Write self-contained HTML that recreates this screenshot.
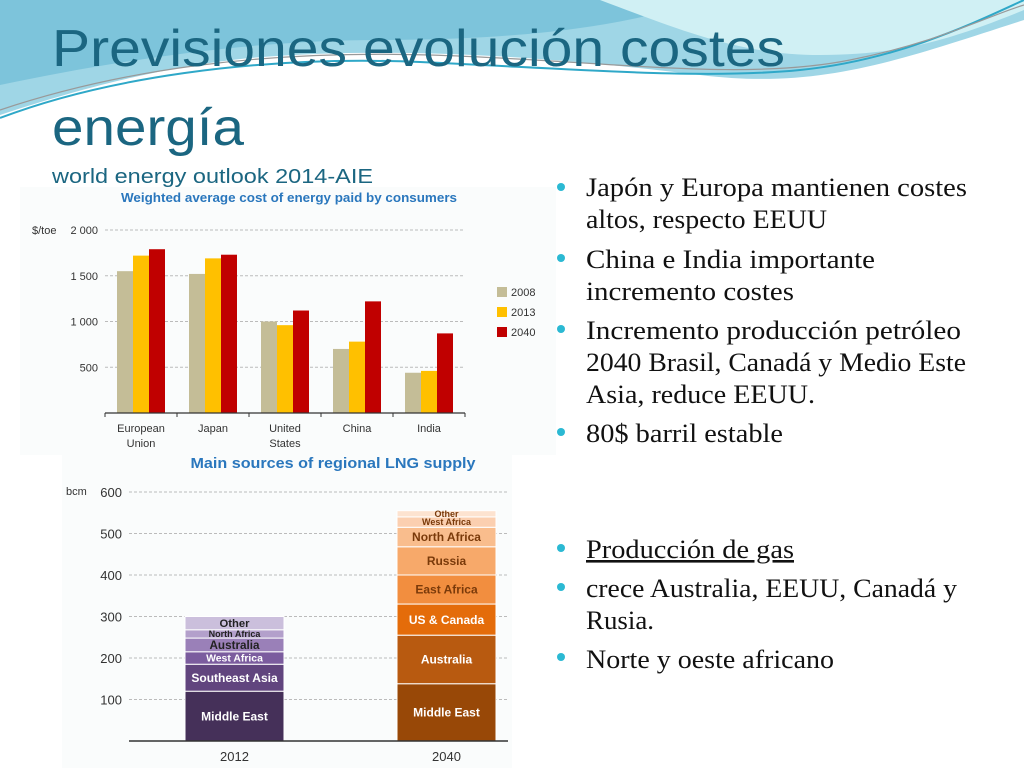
<!DOCTYPE html>
<html><head><meta charset="utf-8"><style>
html,body{margin:0;padding:0;background:#fff;}
svg{display:block;}
.t{font-family:"Liberation Serif",serif;font-size:26px;fill:#111;}
</style></head><body>
<svg id="s" width="1024" height="768" viewBox="0 0 1024 768" xmlns="http://www.w3.org/2000/svg">
<g>
<path d="M0,0 H1024 V20 C900,60 820,90 700,75 C560,58 400,45 250,58 C150,68 60,95 0,115 Z" fill="#9fd6e6"/>
<path d="M0,0 H700 C620,30 500,40 380,40 C250,40 120,60 0,85 Z" fill="#6fbcd6" opacity="0.7"/>
<path d="M600,0 H1024 V10 C950,40 900,55 820,55 C740,55 680,30 600,0 Z" fill="#d0f0f4"/>
<path d="M0,118 C100,80 250,55 420,62 C560,68 700,80 800,70 C900,60 980,20 1024,0" stroke="#2fa8c8" stroke-width="2" fill="none"/>
<path d="M0,110 C120,70 260,50 430,55 C600,60 740,82 850,60 C940,42 990,15 1024,5" stroke="#999" stroke-width="1.2" fill="none"/>
</g>
<text x="52" y="66" font-family="Liberation Sans, sans-serif" font-size="52" fill="#1b6681" textLength="733" lengthAdjust="spacingAndGlyphs">Previsiones evolución costes</text>
<text x="52" y="145" font-family="Liberation Sans, sans-serif" font-size="52" fill="#1b6681" textLength="192" lengthAdjust="spacingAndGlyphs">energía</text>

<g id="c1">
<rect x="20" y="187" width="536" height="268" fill="#fafcfc"/>
<text x="289" y="202" text-anchor="middle" font-family="Liberation Sans, sans-serif" font-size="13" font-weight="bold" fill="#2a77bd" textLength="336" lengthAdjust="spacingAndGlyphs">Weighted average cost of energy paid by consumers</text>
<text x="32" y="234" font-family="Liberation Sans, sans-serif" font-size="11" fill="#333">$/toe</text>
</g>
<text x="52" y="183" font-family="Liberation Sans, sans-serif" font-size="20" fill="#1b6681" textLength="321" lengthAdjust="spacingAndGlyphs">world energy outlook 2014-AIE</text>
<g id="c2">
<rect x="62" y="452" width="450" height="316" fill="#fafcfc"/>
<text x="333" y="468" text-anchor="middle" font-family="Liberation Sans, sans-serif" font-size="15" font-weight="bold" fill="#2a77bd" textLength="285" lengthAdjust="spacingAndGlyphs">Main sources of regional LNG supply</text>
<text x="66" y="495" font-family="Liberation Sans, sans-serif" font-size="11" fill="#333">bcm</text>
</g>

<g>
<g fill="#2bb9d3">
<circle cx="561" cy="187" r="4"/><circle cx="561" cy="258" r="4"/><circle cx="561" cy="329" r="4"/><circle cx="561" cy="432" r="4"/><circle cx="561" cy="548" r="4"/><circle cx="561" cy="587" r="4"/><circle cx="561" cy="657" r="4"/>
</g>
<text class="t" x="586" y="196" textLength="381" lengthAdjust="spacingAndGlyphs">Japón y Europa mantienen costes</text>
<text class="t" x="586" y="228" textLength="241" lengthAdjust="spacingAndGlyphs">altos, respecto EEUU</text>
<text class="t" x="586" y="268" textLength="289" lengthAdjust="spacingAndGlyphs">China e India importante</text>
<text class="t" x="586" y="300" textLength="208" lengthAdjust="spacingAndGlyphs">incremento costes</text>
<text class="t" x="586" y="339" textLength="375" lengthAdjust="spacingAndGlyphs">Incremento producción petróleo</text>
<text class="t" x="586" y="371" textLength="380" lengthAdjust="spacingAndGlyphs">2040 Brasil, Canadá y Medio Este</text>
<text class="t" x="586" y="403" textLength="229" lengthAdjust="spacingAndGlyphs">Asia,  reduce EEUU.</text>
<text class="t" x="586" y="442" textLength="197" lengthAdjust="spacingAndGlyphs">80$ barril estable</text>
<text class="t" x="586" y="558" text-decoration="underline" textLength="208" lengthAdjust="spacingAndGlyphs">Producción de gas</text>
<text class="t" x="586" y="597" textLength="371" lengthAdjust="spacingAndGlyphs">crece Australia, EEUU, Canadá y</text>
<text class="t" x="586" y="629" textLength="68" lengthAdjust="spacingAndGlyphs">Rusia.</text>
<text class="t" x="586" y="668" textLength="248" lengthAdjust="spacingAndGlyphs">Norte y oeste africano</text>
</g>
</svg>
<script>
const categories1 = ["European Union","Japan","United States","China","India"];
const years1 = ["2008","2013","2040"];
const v2008 = [1550,1520,1000,700,440];
const v2013 = [1720,1690,960,780,460];
const v2040 = [1790,1730,1120,1220,870];
const ticks1 = [500,1000,1500,2000];
const tickLabels1 = ["500","1 000","1 500","2 000"];

const years2 = ["2012","2040"];
const segNames2012 = ["Middle East","Southeast Asia","West Africa","Australia","North Africa","Other"];
const segVals2012 = [120,65,30,33,20,32];
const segNames2040 = ["Middle East","Australia","US & Canada","East Africa","Russia","North Africa","West Africa","Other"];
const segVals2040 = [138,117,75,70,68,47,25,15];
const ticks2 = [100,200,300,400,500,600];

const NS="http://www.w3.org/2000/svg";
function mk(parent,tag,attrs,txt){const e=document.createElementNS(NS,tag);for(const k in attrs)e.setAttribute(k,attrs[k]);if(txt!==undefined)e.textContent=txt;parent.appendChild(e);return e;}

const c1=document.getElementById('c1');
const x0=105,x1=465,y0=413,yTop=230;
const ys1=v=>y0-(v/2000)*(y0-yTop);
const bw=(x1-x0)/categories1.length;
ticks1.forEach((t,i)=>{
  const g=mk(c1,'line',{x1:x0,x2:x1,y1:ys1(t),y2:ys1(t),stroke:'#bbb','stroke-dasharray':'3,2'});
  
  
  const l=mk(c1,'text',{x:98,y:ys1(t)+4,'text-anchor':'end','font-family':'Liberation Sans, sans-serif','font-size':11,fill:'#333'},tickLabels1[i]);
  
  
});
const series1=[v2008,v2013,v2040], colors1=['#c4bd97','#ffc000','#c00000'];
categories1.forEach((c,i)=>{
  const cx=x0+bw*(i+0.5);
  series1.forEach((s,j)=>{
    const r=mk(c1,'rect',{x:cx-24+j*16,y:ys1(s[i]),width:16,height:y0-ys1(s[i]),fill:colors1[j]});
    
    
  });
  const words=c.split(' ');
  words.forEach((w,k)=>{
    const t=mk(c1,'text',{x:cx,y:432+k*15,'text-anchor':'middle','font-family':'Liberation Sans, sans-serif','font-size':11,fill:'#333'},w);
    
    
  });
  mk(c1,'line',{x1:x0+bw*i,x2:x0+bw*i,y1:y0,y2:y0+4,stroke:'#333'});
});
mk(c1,'line',{x1:x1,x2:x1,y1:y0,y2:y0+4,stroke:'#333'});
const ax1=mk(c1,'line',{x1:x0,x2:x1,y1:y0,y2:y0,stroke:'#333','stroke-width':1.2});


years1.forEach((y,j)=>{
  const g=mk(c1,'rect',{x:497,y:287+j*20,width:10,height:10,fill:colors1[j]});
  
  
  mk(c1,'text',{x:511,y:296+j*20,'font-family':'Liberation Sans, sans-serif','font-size':11,fill:'#333'},y);
});

const c2=document.getElementById('c2');
const X0=129,X1=508,Y0=741,YT=492;
const ys2=v=>Y0-(v/600)*(Y0-YT);
ticks2.forEach(t=>{
  const g=mk(c2,'line',{x1:X0,x2:X1,y1:ys2(t),y2:ys2(t),stroke:'#bbb','stroke-dasharray':'3,2'});
  
  
  const l=mk(c2,'text',{x:122,y:ys2(t)+5,'text-anchor':'end','font-family':'Liberation Sans, sans-serif','font-size':13,fill:'#333'},String(t));
  
  
});
const purple=['#453059','#61457e','#7b5c9e','#9a80b8','#b3a0cb','#cbbfdc'];
const purpleText=['#fff','#fff','#fff','#222','#222','#222'];
const orange=['#984807','#b85a10','#e46c0a','#f28e3f','#f7a96a','#f9bd8d','#fbcfb0','#fde3d0'];
const orangeText=['#fff','#fff','#fff','#7a3a0a','#7a3a0a','#7a3a0a','#7a3a0a','#7a3a0a'];
function stack(vals,names,cols,tcols,bx,yr){
  let acc=0;
  vals.forEach((v,i)=>{
    const yt=ys2(acc+v), yb=ys2(acc);
    const r=mk(c2,'rect',{x:bx,y:yt,width:99,height:yb-yt,fill:cols[i],stroke:'#fff','stroke-width':1});
    
    
    const fs=Math.min(12,Math.max(9,(yb-yt)-2));
    mk(c2,'text',{x:bx+49.5,y:(yt+yb)/2+fs*0.35,'text-anchor':'middle','font-family':'Liberation Sans, sans-serif','font-size':fs,'font-weight':'bold',fill:tcols[i]},names[i]);
    acc+=v;
  });
  const l=mk(c2,'text',{x:bx+49.5,y:761,'text-anchor':'middle','font-family':'Liberation Sans, sans-serif','font-size':13,fill:'#333'},yr);
  
  
}
stack(segVals2012,segNames2012,purple,purpleText,185,years2[0]);
stack(segVals2040,segNames2040,orange,orangeText,397,years2[1]);
const ax2=mk(c2,'line',{x1:X0,x2:X1,y1:Y0,y2:Y0,stroke:'#333','stroke-width':1.5});


</script>
</body></html>
